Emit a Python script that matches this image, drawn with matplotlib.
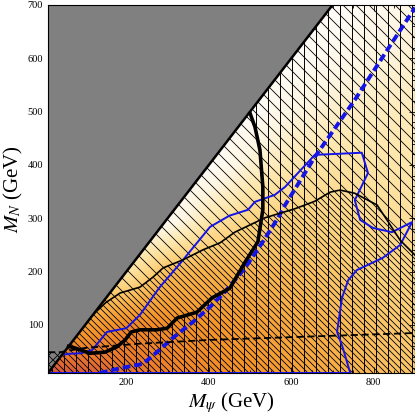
import numpy as np
import matplotlib
matplotlib.use('Agg')
import matplotlib.pyplot as plt
from matplotlib.patches import Polygon
from matplotlib.collections import LineCollection
from matplotlib.colors import LinearSegmentedColormap

plt.rcParams['font.family'] = ['Liberation Serif', 'DejaVu Serif']
plt.rcParams['mathtext.fontset'] = 'stix'

# axis ranges (GeV)
xmin, xmax = 10, 900
ymin, ymax = 10, 700

# background shading on a coarse grid (0 = white, 1 = red)
grid_x = [10, 100, 200, 300, 400, 500, 600, 700, 800, 900]
grid_y = [10, 100, 200, 300, 400, 500, 600, 700]
shade = [
    [1.00, 0.97, 0.90, 0.84, 0.79, 0.75, 0.69, 0.63, 0.56, 0.50],
    [0.68, 0.68, 0.80, 0.78, 0.74, 0.70, 0.64, 0.58, 0.52, 0.47],
    [0.30, 0.30, 0.30, 0.55, 0.60, 0.58, 0.55, 0.50, 0.45, 0.42],
    [0.05, 0.05, 0.05, 0.05, 0.30, 0.42, 0.45, 0.42, 0.38, 0.35],
    [0.02, 0.02, 0.02, 0.02, 0.02, 0.20, 0.30, 0.33, 0.32, 0.30],
    [0.02, 0.02, 0.02, 0.02, 0.02, 0.02, 0.15, 0.22, 0.25, 0.26],
    [0.02, 0.02, 0.02, 0.02, 0.02, 0.02, 0.02, 0.10, 0.16, 0.20],
    [0.02, 0.02, 0.02, 0.02, 0.02, 0.02, 0.02, 0.02, 0.08, 0.14],
]

# thick black contour (from the diagonal at the top down to the diagonal at bottom left)
thick_x = [500, 512, 524, 531, 531, 519, 488, 451, 408, 371, 323, 299, 274, 233, 212, 197, 177, 148, 112, 75, 60]
thick_y = [497, 471, 428, 359, 316, 256, 218, 169, 151, 124, 113, 94, 91, 91, 87, 72, 59, 49, 47, 57, 60]

# thin black contour
thin_x = [120, 150, 185, 233, 265, 289, 337, 386, 427, 463, 536, 609, 657, 694, 718, 754, 808, 832, 864, 900]
thin_y = [120, 142, 160, 171, 190, 207, 222, 241, 254, 274, 301, 318, 332, 349, 353, 347, 325, 297, 259, 231]

# blue solid contour (closed along the bottom axis)
blue_x = [44, 60, 90, 117, 153, 200, 233, 280, 330, 403, 450, 495, 512, 560, 585, 657, 771, 786, 754,
          767, 798, 844, 893, 864, 822, 759, 738, 723, 711, 725, 743, 10, 10]
blue_y = [44, 46, 47, 53, 87, 94, 119, 170, 215, 284, 305, 316, 331, 344, 359, 419, 423, 385, 334,
          297, 282, 274, 293, 250, 226, 203, 184, 151, 87, 57, 10, 10, 10]

# blue dashed line
bdash_x = [136, 185, 240, 274, 313, 362, 403, 439, 488, 531, 568, 585, 657, 754, 844, 900]
bdash_y = [10, 19, 27, 49, 76, 106, 134, 162, 207, 256, 301, 325, 415, 522, 629, 695]

# black dashed line
kdash_x = [10, 40, 60, 100, 233, 400, 630, 900]
kdash_y = [49, 49, 52, 57, 65, 72, 78, 85]

fig = plt.figure(figsize=(4.15, 4.18), dpi=100)
ax_w, ax_h = 367, 368
ax = fig.add_axes([48 / 415, 45 / 418, ax_w / 415, ax_h / 418])
sx = ax_w / (xmax - xmin)   # px per GeV
sy = ax_h / (ymax - ymin)

cmap = LinearSegmentedColormap.from_list('bg', [
    (0.0, '#ffffff'), (0.15, '#fff6e2'), (0.3, '#fee7ad'), (0.45, '#fdd27c'),
    (0.6, '#f9b24a'), (0.75, '#f49429'), (0.88, '#ea782c'), (1.0, '#d4553c')])

gx = np.linspace(xmin, xmax, 300)
gy = np.linspace(ymin, ymax, 300)
rows = np.array([np.interp(gx, grid_x, r) for r in shade])
img = np.array([np.interp(gy, grid_y, rows[:, j]) for j in range(len(gx))]).T
ax.imshow(img, extent=[xmin, xmax, ymin, ymax], origin='lower', cmap=cmap,
          vmin=0, vmax=1, aspect='auto', interpolation='bilinear', zorder=0)


def hatch(poly, kind, spacing, offset=0.0, lw=0.6, z=1.5):
    patch = Polygon(poly, closed=True, facecolor='none', edgecolor='none', transform=ax.transData)
    ax.add_patch(patch)
    W, H = ax_w, ax_h
    segs = []
    if kind == 'v':
        for u in np.arange(offset * spacing, W + spacing, spacing):
            X = xmin + u / sx
            segs.append([(X, ymin), (X, ymax)])
    elif kind == '\\':
        for c in np.arange(offset * spacing, W + H + spacing, spacing):
            segs.append([(xmin + (c - H) / sx, ymax), (xmin + c / sx, ymin)])
    else:
        for c in np.arange(-H + offset * spacing, W + spacing, spacing):
            segs.append([(xmin + c / sx, ymin), (xmin + (c + H) / sx, ymax)])
    lc = LineCollection(segs, colors='k', linewidths=lw, zorder=z)
    lc.set_clip_path(patch)
    ax.add_collection(lc, autolim=False)


below_diag = [(xmin, ymin), (700, 700), (xmax, ymax), (xmax, ymin)]
hatch(below_diag, '\\', 13)

dense = list(zip(thin_x, thin_y)) + [(xmax, ymin), (xmin, ymin)]
hatch(dense, '\\', 13, offset=0.45)

vert = list(zip(thick_x, thick_y)) + [(xmin, ymin), (xmax, ymin), (xmax, ymax), (700, 700)]
hatch(vert, 'v', 12, offset=0.3, lw=0.7)

# excluded region above the diagonal
ax.add_patch(Polygon([(xmin, ymin), (xmin, ymax), (700, 700)], closed=True,
                     facecolor='#808080', edgecolor='none', zorder=2))
corner = [(xmin, ymin), (xmin, 49), (49, 49)]
hatch(corner, '\\', 9, z=2.2)
hatch(corner, '/', 9, z=2.2)

ax.plot([xmin, 700], [ymin, 700], color='k', lw=1.8, zorder=4)
ax.plot(blue_x, blue_y, color='#1414e6', lw=1.4, zorder=3)
ax.plot(bdash_x, bdash_y, color='#1414e6', lw=2.8, dashes=(2, 1), zorder=3)
ax.plot(thick_x, thick_y, color='k', lw=2.6, zorder=3.2)
ax.plot(thin_x, thin_y, color='k', lw=1.2, zorder=3.1)
ax.plot(kdash_x, kdash_y, color='k', lw=1.3, dashes=(4, 2), zorder=3.1)

ax.set_xlim(xmin, xmax)
ax.set_ylim(ymin, ymax)
ax.set_xticks([200, 400, 600, 800])
ax.set_xticks(np.arange(50, 901, 50), minor=True)
ax.set_yticks([100, 200, 300, 400, 500, 600, 700])
ax.set_yticks(np.arange(20, 701, 20), minor=True)
ax.tick_params(which='both', direction='in', top=True, right=True, labelsize=7.5, width=0.6)
ax.tick_params(which='major', length=4)
ax.tick_params(which='minor', length=2)
for s in ax.spines.values():
    s.set_linewidth(0.8)

ax.text(0.5, -0.08, r'$M_\psi$ (GeV)', transform=ax.transAxes, ha='center', va='center', fontsize=15)
ax.text(-0.093, 0.5, r'$M_N$ (GeV)', transform=ax.transAxes, ha='center', va='center',
        rotation=90, fontsize=15)

fig.savefig('out.png', dpi=100)
plt.close()
